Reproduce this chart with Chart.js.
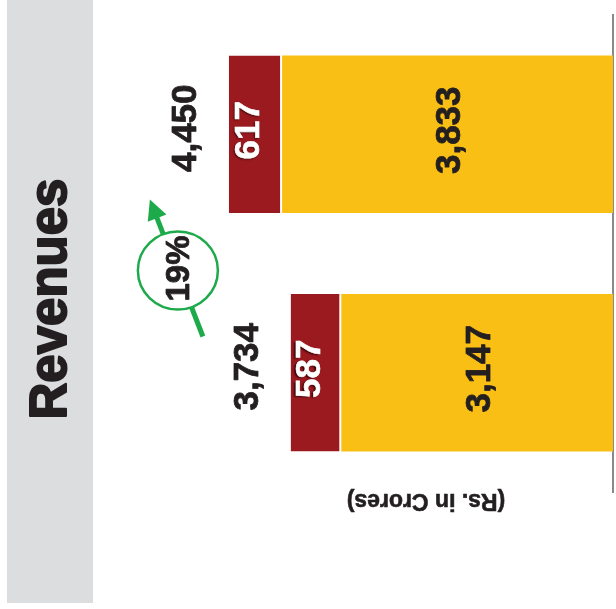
<!DOCTYPE html>
<html>
<head>
<meta charset="utf-8">
<script src="https://cdn.jsdelivr.net/npm/chart.js@4.4.0/dist/chart.umd.min.js"></script>
<style>
    html, body { margin: 0; padding: 0; background: #fff; }
    canvas { display: block; }
</style>
</head>
<body>
<canvas id="revenueChart" width="616" height="609"></canvas>
<script>
// Chart values (top bar = later year)
const categories = ['Current Year', 'Previous Year'];
const mainValues = [3833, 3147];
const otherValues = [617, 587];
const totals = categories.map((c, i) => mainValues[i] + otherValues[i]);
const growthText = '19%';
const titleText = 'Revenues';
const unitText = '(Rs. in Crores)';

const FONT = '"Liberation Sans", Arial, Helvetica, sans-serif';
const DARK = '#231F20';

function fmt(n) {
    return n.toLocaleString('en-US');
}

// draw text rotated around its centre; heavy adds a thin outline to thicken strokes
function rotatedText(ctx, text, x, y, angle, font, color, shadow, heavy) {
    ctx.save();
    ctx.translate(x, y);
    ctx.rotate(angle);
    ctx.font = font;
    ctx.textAlign = 'center';
    ctx.textBaseline = 'middle';
    if (shadow) {
        ctx.shadowColor = 'rgba(40,0,0,0.85)';
        ctx.shadowBlur = 2;
        ctx.shadowOffsetX = -1.5;
        ctx.shadowOffsetY = 1;
    }
    ctx.fillStyle = color;
    ctx.fillText(text, 0, 0);
    if (heavy) {
        ctx.shadowColor = 'transparent';
        ctx.strokeStyle = color;
        ctx.lineWidth = heavy;
        ctx.lineJoin = 'round';
        ctx.strokeText(text, 0, 0);
    }
    ctx.restore();
}

const decorPlugin = {
    id: 'decor',
    beforeDraw(chart) {
        const ctx = chart.ctx;
        ctx.save();
        ctx.fillStyle = '#DCDDDF';
        ctx.fillRect(7, 0, 86, 603);
        ctx.restore();
        rotatedText(ctx, titleText, 52, 299, -Math.PI / 2, 'bold 51px ' + FONT, DARK, false, 2);
    },
    afterDatasetsDraw(chart) {
        const ctx = chart.ctx;
        const xScale = chart.scales.x;
        const yScale = chart.scales.y;
        const up = -Math.PI / 2;

        chart.getDatasetMeta(0).data.forEach((bar, i) => {
            const c = bar.getCenterPoint();
            rotatedText(ctx, fmt(mainValues[i]), c.x + 3, c.y - 4, up, 'bold 35px ' + FONT, DARK, false, 0.8);
        });
        chart.getDatasetMeta(1).data.forEach((bar, i) => {
            const c = bar.getCenterPoint();
            rotatedText(ctx, fmt(otherValues[i]), c.x - 6, c.y - 4, up, 'bold 35px ' + FONT, '#fff', true, 0.6);
            const left = Math.min(bar.x, bar.base);
            rotatedText(ctx, fmt(totals[i]), left - 42, c.y - 6, up, 'bold 35px ' + FONT, DARK, false, 0.8);
        });

        // growth arrow with circled percentage
        const cx = xScale.getPixelForValue(5040);
        const cy = (yScale.getPixelForValue(0) + yScale.getPixelForValue(1)) / 2 + 17;
        const tail = { x: cx + 25, y: cy + 66 };
        const tip = { x: cx - 28, y: cy - 71 };
        const dx = tip.x - tail.x, dy = tip.y - tail.y;
        const len = Math.hypot(dx, dy);
        const ux = dx / len, uy = dy / len;
        const headLen = 20, headHalf = 10;
        const bx = tip.x - ux * headLen, by = tip.y - uy * headLen;

        ctx.save();
        ctx.strokeStyle = '#1DAA4B';
        ctx.fillStyle = '#1DAA4B';
        ctx.lineWidth = 5;
        ctx.beginPath();
        ctx.moveTo(tail.x, tail.y);
        ctx.lineTo(bx + ux * 2, by + uy * 2);
        ctx.stroke();
        ctx.beginPath();
        ctx.moveTo(tip.x, tip.y);
        ctx.lineTo(bx - uy * headHalf, by + ux * headHalf);
        ctx.lineTo(bx + uy * headHalf, by - ux * headHalf);
        ctx.closePath();
        ctx.fill();

        ctx.beginPath();
        ctx.ellipse(cx, cy, 40, 39, 0, 0, Math.PI * 2);
        ctx.fillStyle = '#fff';
        ctx.fill();
        ctx.lineWidth = 2.5;
        ctx.stroke();
        ctx.restore();
        rotatedText(ctx, growthText, cx + 2, cy - 2, up, 'bold 33px ' + FONT, DARK, false, 0.8);

        // unit note, printed upside down in the source
        rotatedText(ctx, unitText, 426, 500, Math.PI, 'bold 23px ' + FONT, DARK, false, 0.6);
    }
};

const ctx = document.getElementById('revenueChart').getContext('2d');
new Chart(ctx, {
    type: 'bar',
    data: {
        labels: categories,
        datasets: [{
            label: 'Main',
            data: mainValues,
            backgroundColor: '#F9BF15',
            borderWidth: 0,
            categoryPercentage: 1,
            barPercentage: 0.66
        }, {
            label: 'Other',
            data: otherValues,
            backgroundColor: '#9B1A20',
            borderColor: '#ffffff',
            borderWidth: { top: 0, bottom: 0, left: 0, right: 2 },
            borderSkipped: false,
            categoryPercentage: 1,
            barPercentage: 0.66
        }]
    },
    options: {
        indexAxis: 'y',
        responsive: false,
        animation: false,
        layout: { padding: { left: 95, right: 3, top: 15, bottom: 117 } },
        scales: {
            x: {
                type: 'linear',
                reverse: true,
                stacked: true,
                min: 0,
                max: 6000,
                display: false
            },
            y: {
                stacked: true,
                position: 'right',
                grid: { display: false, drawTicks: false },
                ticks: { display: false },
                border: { display: true, color: '#8A8A8A', width: 2 },
                afterFit(scale) { scale.width = 0; }
            }
        },
        plugins: {
            legend: { display: false },
            tooltip: { enabled: false }
        }
    },
    plugins: [decorPlugin]
});
</script>
</body>
</html>
